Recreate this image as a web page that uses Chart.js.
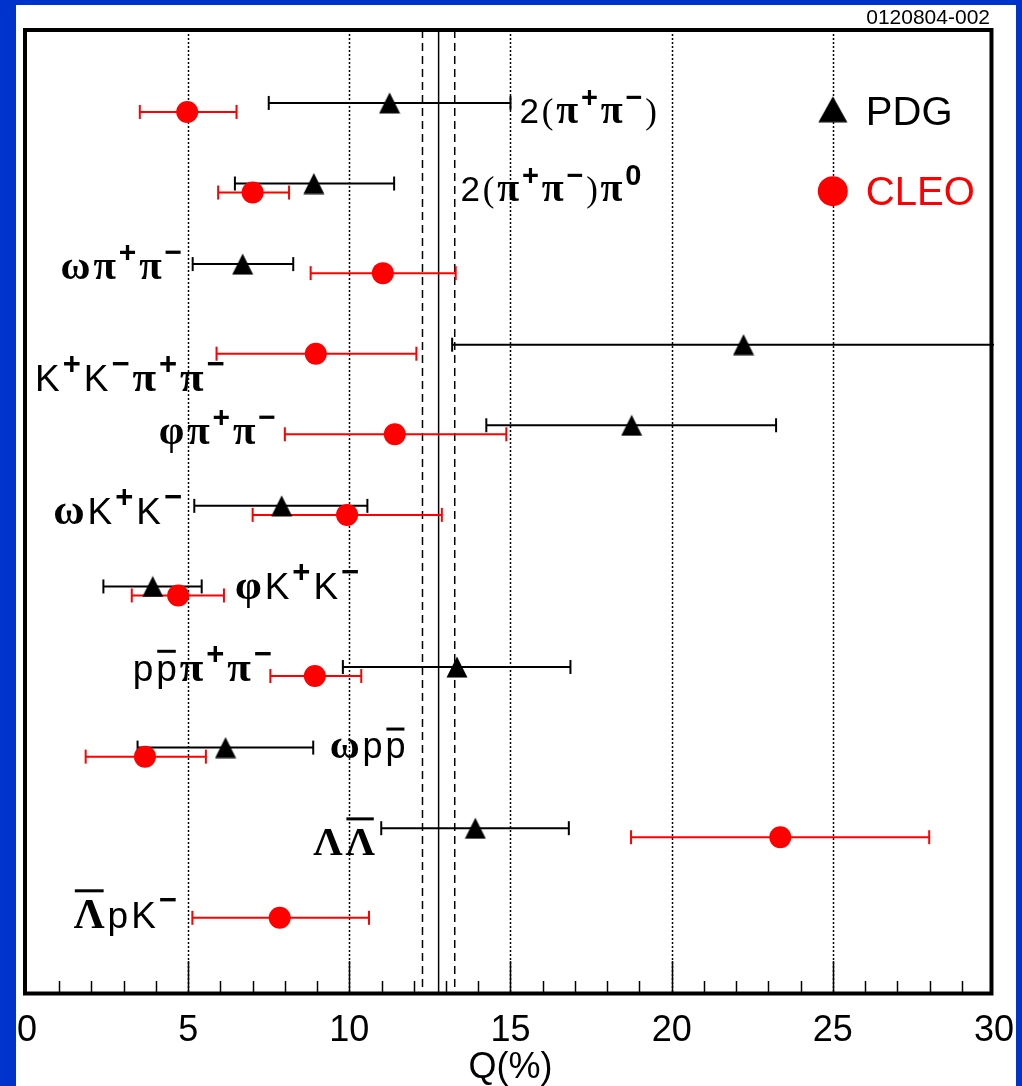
<!DOCTYPE html>
<html>
<head>
<meta charset="utf-8">
<script src="https://cdn.jsdelivr.net/npm/chart.js@4.4.1/dist/chart.umd.min.js"></script>
<style>
  body { margin: 0; background: #0033cc; }
  #panel { position: absolute; left: 16px; top: 5px; width: 1000px; height: 1081px; background: #fff; overflow: hidden; }
  #chart { position: absolute; left: -16px; top: -5px; }
</style>
</head>
<body>
<div id="panel"><canvas id="chart" width="1022" height="1086"></canvas></div>
<script>
// decay modes, top to bottom ("^" = superscript next char, "~" = bar over next char)
const modes = [
  "2(π^+π^−)", "2(π^+π^−)π^0", "ωπ^+π^−", "K^+K^−π^+π^−", "φπ^+π^−",
  "ωK^+K^−", "φK^+K^−", "p~pπ^+π^−", "ωp~p", "Λ~Λ", "~ΛpK^−"
];

// Q in percent with lower / upper error ends
const pdgQ   = [11.25, 8.90, 6.69, 22.23, 18.76, 7.90, 3.90, 13.34, 6.16, 13.91, null];
const pdgLo  = [7.50, 6.45, 5.14, 13.19, 14.25, 5.19, 2.37, 9.80, 3.43, 10.99, null];
const pdgHi  = [15.00, 11.39, 8.26, 31.27, 23.24, 10.56, 5.42, 16.86, 8.88, 16.81, null];
const cleoQ  = [4.97, 7.00, 11.04, 8.96, 11.41, 9.93, 4.69, 8.93, 3.66, 23.37, 7.84];
const cleoLo = [3.50, 5.93, 8.80, 5.88, 8.00, 7.00, 3.25, 7.55, 1.82, 18.74, 5.13];
const cleoHi = [6.50, 8.13, 13.30, 12.08, 14.87, 12.87, 6.11, 10.37, 5.55, 27.99, 10.61];

// 12% rule and its band
const q12 = 12.77;
const q12Band = [12.27, 13.27];

const xTicks = [0, 5, 10, 15, 20, 25, 30];

// vertical placement of the two series inside a row
const PDG_SHIFT = -0.065;
const CLEO_SHIFT = 0.047;

// where each mode label sits: x in Q units, y = baseline in row units
const labelPlace = [
  { x: 15.28, y: 1.184, align: "left", size: 35 },
  { x: 13.45, y: 2.152, align: "left", size: 35 },
  { x: 4.81, y: 3.119, align: "right", size: 36 },
  { x: 0.25, y: 4.509, align: "left", size: 37 },
  { x: 7.72, y: 5.166, align: "right", size: 36 },
  { x: 4.81, y: 6.159, align: "right", size: 37 },
  { x: 6.45, y: 7.09, align: "left", size: 37 },
  { x: 7.60, y: 8.107, align: "right", size: 37 },
  { x: 9.39, y: 9.062, align: "left", size: 36 },
  { x: 10.79, y: 10.266, align: "right", size: 36 },
  { x: 4.65, y: 11.171, align: "right", size: 37 }
];

const GREEK = "πωφΛ";

function makeTriangle(w, h) {
  const c = document.createElement("canvas");
  c.width = w; c.height = h;
  const g = c.getContext("2d");
  g.fillStyle = "#000";
  g.beginPath();
  g.moveTo(w / 2, 0.5);
  g.lineTo(w - 0.5, h - 0.5);
  g.lineTo(0.5, h - 0.5);
  g.closePath();
  g.fill();
  return c;
}
const triMark = makeTriangle(22, 22);
const triLegend = makeTriangle(30, 27);

function parseLabel(s) {
  const parts = [];
  let sup = false, bar = false;
  for (const ch of s) {
    if (ch === "^") { sup = true; continue; }
    if (ch === "~") { bar = true; continue; }
    parts.push({ ch, sup, bar });
    sup = bar = false;
  }
  return parts;
}

function partFont(p, size) {
  if (p.sup) return `bold ${Math.round(size * 0.84)}px "Liberation Sans"`;
  if (GREEK.includes(p.ch)) return `bold ${Math.round(size * 1.15)}px "Liberation Serif"`;
  if ("()".includes(p.ch)) return `${size}px "Liberation Serif"`;
  return `${size}px "Liberation Sans"`;
}

function drawLabel(ctx, text, px, py, align, size) {
  const parts = parseLabel(text);
  const gap = size * 0.08;
  let total = 0;
  parts.forEach(p => { ctx.font = partFont(p, size); p.w = ctx.measureText(p.ch).width; total += p.w + gap; });
  total -= gap;
  let cx = align === "right" ? px - total : px;
  ctx.fillStyle = "#000";
  ctx.textBaseline = "alphabetic";
  ctx.textAlign = "left";
  parts.forEach(p => {
    ctx.font = partFont(p, size);
    const yy = p.sup ? py - size * 0.47 : py;
    ctx.fillText(p.ch, cx, yy);
    if (p.bar) {
      const greek = GREEK.includes(p.ch);
      const by = py - size * (greek ? 1.0 : 0.8);
      ctx.lineWidth = 3;
      ctx.strokeStyle = "#000";
      ctx.beginPath();
      ctx.moveTo(cx + 1, by);
      ctx.lineTo(cx + p.w - 1, by);
      ctx.stroke();
    }
    cx += p.w + gap;
  });
}

const decor = {
  id: "decor",
  beforeDatasetsDraw(chart) {
    const { ctx, chartArea: a, scales: { x, y } } = chart;
    ctx.save();
    labelPlace.forEach((l, i) => {
      drawLabel(ctx, modes[i], x.getPixelForValue(l.x), y.getPixelForValue(l.y), l.align, l.size);
    });
    // dotted grid
    ctx.strokeStyle = "#000";
    ctx.lineWidth = 1.5;
    ctx.setLineDash([2, 2]);
    xTicks.slice(1, -1).forEach(v => {
      const px = Math.round(x.getPixelForValue(v)) + 0.5;
      ctx.beginPath();
      ctx.moveTo(px, a.top);
      ctx.lineTo(px, a.bottom);
      ctx.stroke();
    });
    ctx.restore();
  },
  afterDatasetsDraw(chart) {
    const { ctx, chartArea: a, scales: { x, y } } = chart;
    ctx.save();
    // frame
    ctx.strokeStyle = "#000";
    ctx.lineWidth = 4;
    ctx.strokeRect(a.left - 2, a.top, a.right - a.left - 0.5, a.bottom - a.top + 0.5);
    // inward ticks
    ctx.lineWidth = 1.5;
    for (let v = 1; v < 30; v++) {
      const px = Math.round(x.getPixelForValue(v)) + 0.5;
      const len = v % 5 === 0 ? 32 : 12;
      ctx.beginPath();
      ctx.moveTo(px, a.bottom);
      ctx.lineTo(px, a.bottom - len);
      ctx.stroke();
    }
    // legend
    const lx = x.getPixelForValue(25);
    const ly1 = y.getPixelForValue(1.02);
    const ly2 = y.getPixelForValue(2.03);
    ctx.drawImage(triLegend, lx - 15, ly1 - 14);
    ctx.fillStyle = "#ff0000";
    ctx.beginPath();
    ctx.arc(lx, ly2, 15, 0, Math.PI * 2);
    ctx.fill();
    ctx.font = '40px "Liberation Sans"';
    ctx.textBaseline = "alphabetic";
    ctx.textAlign = "left";
    ctx.fillStyle = "#000";
    ctx.fillText("PDG", lx + 33, ly1 + 15);
    ctx.fillStyle = "#ff0000";
    ctx.fillText("CLEO", lx + 33, ly2 + 14);
    // figure id
    ctx.fillStyle = "#000";
    ctx.font = '21px "Liberation Sans"';
    ctx.textAlign = "right";
    ctx.fillText("0120804-002", 990, 24);
    ctx.restore();
  }
};

function errorBar(lo, hi, yv, color) {
  return {
    data: [{ x: lo, y: yv }, { x: hi, y: yv }],
    showLine: true,
    borderColor: color,
    borderWidth: 2,
    pointStyle: "line",
    rotation: 90,
    pointRadius: 7,
    pointBorderWidth: 2,
    pointBorderColor: color,
    order: 1
  };
}

const datasets = [];
pdgQ.forEach((q, i) => {
  if (q !== null) datasets.push(errorBar(pdgLo[i], pdgHi[i], i + 1 + PDG_SHIFT, "#000"));
});
cleoQ.forEach((q, i) => {
  datasets.push(errorBar(cleoLo[i], cleoHi[i], i + 1 + CLEO_SHIFT, "#ff0000"));
});

datasets.push({
  label: "PDG",
  data: pdgQ.map((q, i) => q === null ? null : { x: q, y: i + 1 + PDG_SHIFT }).filter(Boolean),
  pointStyle: triMark,
  pointRadius: 11,
  order: 0
});
datasets.push({
  label: "CLEO",
  data: cleoQ.map((q, i) => ({ x: q, y: i + 1 + CLEO_SHIFT })),
  pointStyle: "circle",
  pointRadius: 11,
  backgroundColor: "#ff0000",
  borderColor: "#ff0000",
  borderWidth: 0,
  order: 0
});

// 12% rule lines across the full height
const yMin = 0.03, yMax = 11.98;
[[q12, []], [q12Band[0], [8, 5]], [q12Band[1], [8, 5]]].forEach(([v, dash]) => {
  datasets.push({
    data: [{ x: v, y: yMin }, { x: v, y: yMax }],
    showLine: true,
    borderColor: "#000",
    borderWidth: 1.5,
    borderDash: dash,
    pointRadius: 0,
    order: 2
  });
});

new Chart(document.getElementById("chart"), {
  type: "scatter",
  data: { datasets },
  options: {
    responsive: false,
    animation: false,
    events: [],
    layout: { padding: { left: 27, right: 28, top: 30, bottom: 0 } },
    plugins: { legend: { display: false }, tooltip: { enabled: false } },
    scales: {
      x: {
        type: "linear",
        min: 0,
        max: 30,
        grid: { display: false },
        border: { display: false },
        ticks: {
          stepSize: 5,
          color: "#000",
          padding: 8,
          maxRotation: 0,
          autoSkip: false,
          font: { family: "Liberation Sans", size: 36 }
        },
        title: {
          display: true,
          text: "Q(%)",
          color: "#000",
          padding: 0,
          font: { family: "Liberation Sans", size: 36, lineHeight: 1.0 }
        },
        afterFit(scale) { scale.height = 93; }
      },
      y: { type: "linear", display: false, min: yMin, max: yMax, reverse: true }
    }
  },
  plugins: [decor]
});
</script>
</body>
</html>
